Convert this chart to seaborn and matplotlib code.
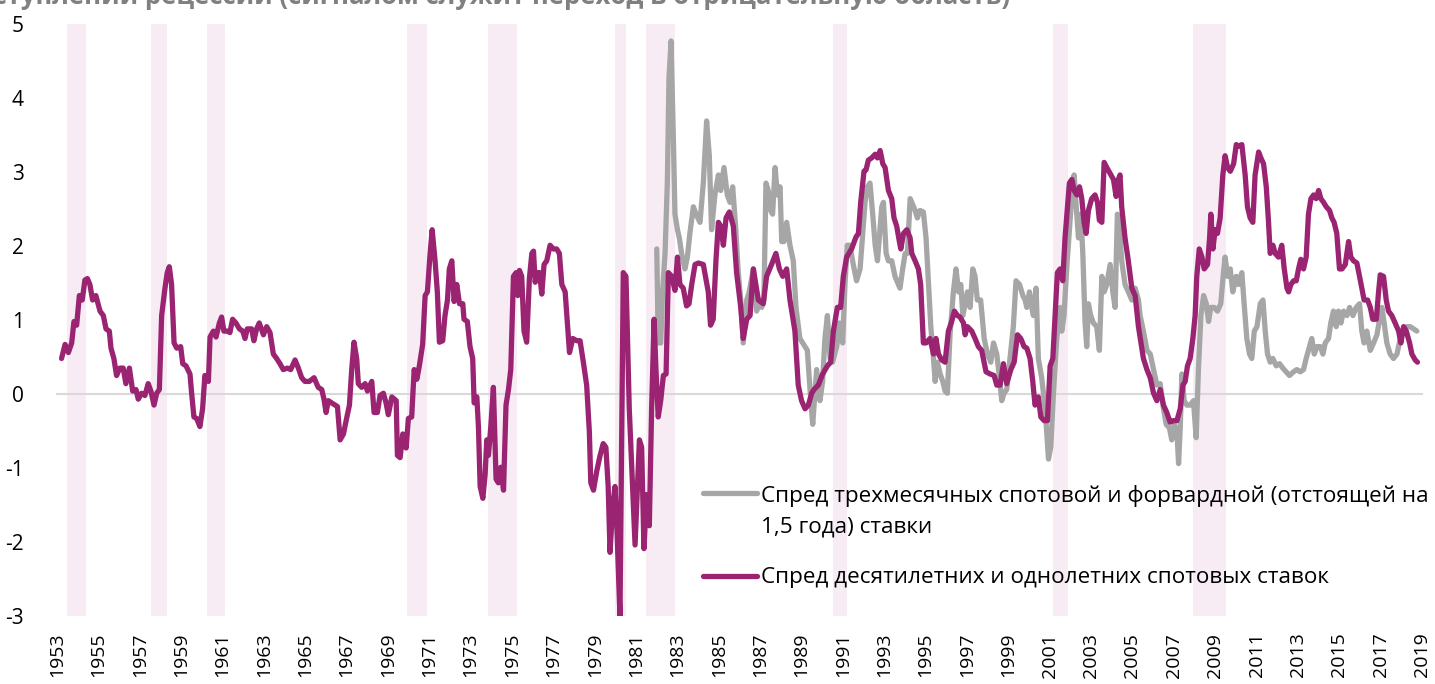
import matplotlib
matplotlib.use("Agg")
import matplotlib.pyplot as plt
import seaborn as sns
from matplotlib.lines import Line2D

sns.set_style("white")
plt.rcParams["font.family"] = ["Open Sans", "DejaVu Sans"]
plt.rcParams["axes.unicode_minus"] = False

# --- data ---
purple_years = [
    1953.22, 1953.39, 1953.55, 1953.71, 1953.82, 1953.95, 1954.08, 1954.22, 1954.35, 1954.47,
    1954.59, 1954.72, 1954.88, 1955.08, 1955.24, 1955.37, 1955.53, 1955.61, 1955.75, 1955.88,
    1956.04, 1956.20, 1956.33, 1956.50, 1956.66, 1956.82, 1956.93, 1957.09, 1957.25, 1957.41,
    1957.54, 1957.69, 1957.82, 1957.95, 1958.06, 1958.22, 1958.33, 1958.43, 1958.54, 1958.66,
    1958.79, 1958.98, 1959.08, 1959.24, 1959.43, 1959.51, 1959.62, 1959.75, 1959.91, 1960.04,
    1960.15, 1960.32, 1960.40, 1960.56, 1960.69, 1960.85, 1960.96, 1961.07, 1961.24, 1961.36,
    1961.49, 1961.65, 1961.82, 1961.98, 1962.09, 1962.20, 1962.41, 1962.52, 1962.65, 1962.78,
    1962.98, 1963.14, 1963.30, 1963.46, 1963.62, 1963.78, 1963.94, 1964.14, 1964.30, 1964.51,
    1964.67, 1964.83, 1964.99, 1965.20, 1965.43, 1965.63, 1965.80, 1965.91, 1966.01, 1966.12,
    1966.28, 1966.45, 1966.56, 1966.69, 1966.85, 1966.98, 1967.14, 1967.25, 1967.36, 1967.49,
    1967.57, 1967.73, 1967.90, 1968.01, 1968.22, 1968.33, 1968.49, 1968.62, 1968.78, 1968.91,
    1969.02, 1969.19, 1969.40, 1969.46, 1969.59, 1969.72, 1969.88, 1969.99, 1970.15, 1970.27,
    1970.40, 1970.52, 1970.68, 1970.80, 1970.91, 1971.04, 1971.14, 1971.28, 1971.39, 1971.49,
    1971.65, 1971.76, 1971.88, 1971.97, 1972.09, 1972.20, 1972.33, 1972.46, 1972.62, 1972.68,
    1972.84, 1972.97, 1973.10, 1973.17, 1973.30, 1973.38, 1973.46, 1973.59, 1973.70, 1973.78,
    1973.86, 1973.97, 1974.10, 1974.23, 1974.34, 1974.46, 1974.59, 1974.71, 1974.83, 1974.94,
    1975.07, 1975.20, 1975.28, 1975.36, 1975.47, 1975.58, 1975.71, 1975.84, 1975.96, 1976.04,
    1976.12, 1976.23, 1976.33, 1976.44, 1976.55, 1976.68, 1976.84, 1977.00, 1977.16, 1977.29,
    1977.41, 1977.57, 1977.68, 1977.78, 1977.94, 1978.13, 1978.29, 1978.45, 1978.61, 1978.74,
    1978.81, 1978.94, 1979.10, 1979.26, 1979.41, 1979.54, 1979.65, 1979.74, 1979.87, 1979.98,
    1980.06, 1980.22, 1980.38, 1980.51, 1980.67, 1980.95, 1981.16, 1981.27, 1981.38, 1981.51,
    1981.64, 1981.75, 1981.87, 1981.96, 1982.07, 1982.19, 1982.32, 1982.45, 1982.56, 1982.72,
    1982.88, 1983.00, 1983.12, 1983.28, 1983.44, 1983.56, 1983.69, 1983.85, 1984.01, 1984.25,
    1984.49, 1984.60, 1984.73, 1984.86, 1984.98, 1985.09, 1985.22, 1985.35, 1985.51, 1985.70,
    1985.86, 1986.06, 1986.18, 1986.35, 1986.51, 1986.67, 1986.91, 1987.15, 1987.31, 1987.55,
    1987.76, 1987.93, 1988.09, 1988.28, 1988.44, 1988.68, 1988.84, 1989.00, 1989.17, 1989.33,
    1989.49, 1989.60, 1989.81, 1990.02, 1990.25, 1990.41, 1990.54, 1990.73, 1990.89, 1991.02,
    1991.18, 1991.42, 1991.63, 1991.75, 1991.86, 1992.02, 1992.12, 1992.23, 1992.39, 1992.56,
    1992.67, 1992.80, 1992.93, 1993.04, 1993.20, 1993.36, 1993.47, 1993.60, 1993.73, 1993.80,
    1993.93, 1994.09, 1994.25, 1994.33, 1994.49, 1994.65, 1994.76, 1994.89, 1995.02, 1995.21,
    1995.38, 1995.50, 1995.62, 1995.78, 1995.94, 1996.10, 1996.26, 1996.39, 1996.54, 1996.66,
    1996.83, 1996.91, 1997.02, 1997.23, 1997.39, 1997.55, 1997.71, 1997.92, 1998.12, 1998.31,
    1998.44, 1998.60, 1998.76, 1998.92, 1999.12, 1999.28, 1999.44, 1999.60, 1999.76, 1999.89,
    2000.05, 2000.18, 2000.29, 2000.45, 2000.57, 2000.73, 2000.89, 2001.02, 2001.15, 2001.26,
    2001.37, 2001.50, 2001.63, 2001.74, 2001.86, 2001.95, 2002.07, 2002.18, 2002.31, 2002.44,
    2002.55, 2002.66, 2002.76, 2002.87, 2003.03, 2003.19, 2003.31, 2003.40, 2003.52, 2003.63,
    2003.76, 2003.92, 2004.08, 2004.21, 2004.32, 2004.40, 2004.48, 2004.64, 2004.80, 2004.97,
    2005.13, 2005.29, 2005.53, 2005.70, 2005.86, 2006.02, 2006.18, 2006.34, 2006.50, 2006.66,
    2006.82, 2006.99, 2007.15, 2007.31, 2007.44, 2007.55, 2007.66, 2007.79, 2007.92, 2008.03,
    2008.11, 2008.23, 2008.36, 2008.47, 2008.63, 2008.73, 2008.79, 2008.89, 2009.00, 2009.11,
    2009.24, 2009.37, 2009.48, 2009.60, 2009.73, 2009.89, 2010.02, 2010.13, 2010.29, 2010.45,
    2010.56, 2010.69, 2010.82, 2010.93, 2011.10, 2011.21, 2011.34, 2011.47, 2011.58, 2011.66,
    2011.79, 2011.90, 2012.06, 2012.22, 2012.34, 2012.47, 2012.55, 2012.66, 2012.79, 2012.92,
    2013.03, 2013.14, 2013.27, 2013.40, 2013.51, 2013.63, 2013.76, 2013.88, 2014.00, 2014.11,
    2014.24, 2014.37, 2014.53, 2014.64, 2014.75, 2014.88, 2015.01, 2015.13, 2015.29, 2015.45,
    2015.56, 2015.69, 2015.85, 2015.98, 2016.09, 2016.20, 2016.37, 2016.50, 2016.62, 2016.79,
    2016.90, 2016.98, 2017.14, 2017.27, 2017.38, 2017.54, 2017.70, 2017.87, 2017.98, 2018.11,
    2018.24, 2018.40, 2018.51, 2018.67, 2018.78,
]
purple_vals = [
    0.48, 0.67, 0.56, 0.69, 0.98, 0.93, 1.33, 1.27, 1.54, 1.56,
    1.48, 1.27, 1.33, 1.12, 1.06, 0.88, 0.85, 0.62, 0.48, 0.25,
    0.35, 0.35, 0.14, 0.35, 0.04, 0.06, -0.07, 0.01, -0.02, 0.14,
    0.04, -0.15, 0.01, 0.06, 1.06, 1.43, 1.64, 1.72, 1.48, 0.69,
    0.62, 0.64, 0.41, 0.38, 0.27, 0.01, -0.31, -0.33, -0.44, -0.20,
    0.25, 0.17, 0.77, 0.85, 0.77, 0.96, 1.04, 0.85, 0.85, 0.83,
    1.01, 0.96, 0.88, 0.85, 0.75, 0.88, 0.88, 0.72, 0.88, 0.96,
    0.80, 0.91, 0.83, 0.54, 0.48, 0.41, 0.33, 0.35, 0.33, 0.46,
    0.35, 0.22, 0.17, 0.17, 0.22, 0.09, 0.06, -0.07, -0.25, -0.09,
    -0.12, -0.15, -0.17, -0.62, -0.54, -0.36, -0.15, 0.33, 0.70, 0.48,
    0.14, 0.09, 0.14, 0.04, 0.17, -0.25, -0.25, -0.02, 0.01, -0.12,
    -0.28, -0.04, -0.09, -0.83, -0.86, -0.54, -0.73, -0.33, -0.31, 0.33,
    0.20, 0.38, 0.67, 1.33, 1.38, 1.90, 2.22, 1.80, 1.38, 0.70,
    0.72, 1.06, 1.27, 1.69, 1.80, 1.25, 1.48, 1.22, 1.22, 1.01,
    0.98, 0.64, 0.48, -0.12, -0.04, -0.46, -1.25, -1.41, -1.09, -0.62,
    -0.83, -0.46, 0.09, -1.15, -1.20, -0.99, -1.30, -0.15, 0.06, 0.33,
    1.59, 1.64, 1.33, 1.67, 1.59, 0.85, 0.70, 1.56, 1.90, 1.93,
    1.51, 1.64, 1.64, 1.35, 1.75, 1.80, 2.01, 1.96, 1.96, 1.90,
    1.48, 1.38, 0.96, 0.56, 0.75, 0.72, 0.72, 0.43, 0.12, -0.51,
    -1.20, -1.30, -1.04, -0.83, -0.67, -0.72, -1.25, -2.14, -1.51, -1.25,
    -1.72, -3.00, 1.64, 1.59, -0.20, -2.04, -0.62, -0.72, -2.09, -1.36,
    -1.78, -0.20, 1.01, 0.33, -0.31, -0.09, 0.25, 0.27, 1.64, 1.59,
    1.40, 1.85, 1.48, 1.43, 1.19, 1.22, 1.48, 1.75, 1.77, 1.75,
    1.38, 0.93, 1.01, 1.80, 2.32, 2.27, 2.01, 2.38, 2.46, 2.27,
    1.64, 1.17, 0.75, 1.01, 1.06, 1.69, 1.27, 1.22, 1.59, 1.75,
    1.90, 1.69, 1.59, 1.69, 1.27, 0.85, 0.12, -0.09, -0.20, -0.15,
    0.01, 0.06, 0.12, 0.27, 0.38, 0.43, 0.85, 1.17, 1.17, 1.59,
    1.85, 1.96, 2.12, 2.17, 2.59, 3.01, 3.03, 3.16, 3.19, 3.24,
    3.19, 3.29, 3.11, 3.06, 2.75, 2.64, 2.38, 2.27, 2.06, 1.96,
    2.17, 2.22, 2.11, 1.90, 1.80, 1.69, 1.48, 0.69, 0.69, 0.75,
    0.54, 0.75, 0.54, 0.46, 0.43, 0.85, 0.98, 1.12, 1.06, 1.04,
    0.96, 0.80, 0.91, 0.85, 0.75, 0.64, 0.59, 0.30, 0.27, 0.25,
    0.12, 0.12, 0.41, 0.14, 0.33, 0.43, 0.80, 0.75, 0.64, 0.62,
    0.48, 0.17, -0.15, -0.04, -0.31, -0.36, -0.36, 0.38, 0.48, 1.06,
    1.64, 1.69, 1.53, 2.11, 2.53, 2.85, 2.90, 2.75, 2.69, 2.80,
    2.64, 2.32, 2.17, 2.48, 2.64, 2.69, 2.59, 2.35, 2.32, 3.13,
    3.06, 2.98, 2.90, 2.67, 2.90, 2.96, 2.53, 2.11, 1.80, 1.43,
    1.33, 0.91, 0.48, 0.33, 0.22, 0.01, -0.09, 0.06, -0.15, -0.25,
    -0.38, -0.36, -0.36, -0.20, 0.12, 0.17, 0.38, 0.48, 0.75, 1.06,
    1.59, 1.96, 1.85, 1.69, 1.75, 2.11, 2.43, 1.96, 2.22, 2.17,
    2.38, 2.96, 3.22, 3.06, 3.01, 3.11, 3.37, 3.35, 3.37, 2.96,
    2.53, 2.38, 2.32, 2.96, 3.27, 3.19, 3.11, 2.80, 2.32, 1.90,
    2.01, 1.90, 1.85, 2.01, 1.69, 1.43, 1.38, 1.48, 1.53, 1.53,
    1.69, 1.82, 1.69, 1.85, 2.43, 2.64, 2.69, 2.64, 2.75, 2.64,
    2.59, 2.53, 2.48, 2.38, 2.32, 2.17, 1.69, 1.69, 1.75, 2.06,
    1.85, 1.80, 1.77, 1.59, 1.43, 1.27, 1.27, 1.17, 1.01, 1.01,
    1.38, 1.61, 1.59, 1.27, 1.12, 1.06, 0.96, 0.85, 0.69, 0.91,
    0.85, 0.69, 0.54, 0.46, 0.43,
]

grey_years = [
    1982.00, 1982.07, 1982.19, 1982.28, 1982.40, 1982.51, 1982.59, 1982.69, 1982.80, 1982.88,
    1983.00, 1983.09, 1983.20, 1983.36, 1983.48, 1983.60, 1983.77, 1983.90, 1984.09, 1984.25,
    1984.41, 1984.54, 1984.65, 1984.81, 1984.98, 1985.09, 1985.25, 1985.41, 1985.54, 1985.67,
    1985.81, 1985.94, 1986.06, 1986.18, 1986.35, 1986.47, 1986.67, 1986.83, 1986.96, 1987.07,
    1987.18, 1987.28, 1987.39, 1987.50, 1987.60, 1987.72, 1987.83, 1987.96, 1988.04, 1988.15,
    1988.28, 1988.44, 1988.60, 1988.73, 1988.92, 1989.17, 1989.28, 1989.41, 1989.54, 1989.65,
    1989.73, 1989.89, 1990.02, 1990.13, 1990.25, 1990.38, 1990.50, 1990.70, 1990.83, 1990.99,
    1991.10, 1991.21, 1991.34, 1991.50, 1991.66, 1991.83, 1992.07, 1992.18, 1992.31, 1992.44,
    1992.56, 1992.67, 1992.76, 1992.88, 1992.96, 1993.09, 1993.20, 1993.36, 1993.52, 1993.68,
    1993.76, 1993.89, 1994.01, 1994.12, 1994.25, 1994.33, 1994.49, 1994.60, 1994.73, 1994.89,
    1995.02, 1995.13, 1995.25, 1995.38, 1995.46, 1995.57, 1995.70, 1995.83, 1995.94, 1996.05,
    1996.18, 1996.34, 1996.47, 1996.59, 1996.70, 1996.80, 1996.91, 1997.02, 1997.15, 1997.28,
    1997.39, 1997.50, 1997.66, 1997.83, 1997.99, 1998.15, 1998.28, 1998.44, 1998.57, 1998.68,
    1998.79, 1998.92, 1999.08, 1999.24, 1999.37, 1999.54, 1999.70, 1999.81, 1999.89, 2000.02,
    2000.13, 2000.21, 2000.34, 2000.45, 2000.61, 2000.78, 2000.94, 2001.05, 2001.18, 2001.34,
    2001.50, 2001.58, 2001.69, 2001.82, 2001.95, 2002.07, 2002.18, 2002.28, 2002.39, 2002.50,
    2002.60, 2002.71, 2002.79, 2002.87, 2002.98, 2003.11, 2003.27, 2003.40, 2003.52, 2003.63,
    2003.76, 2003.92, 2004.05, 2004.16, 2004.27, 2004.37, 2004.48, 2004.64, 2004.80, 2004.97,
    2005.13, 2005.29, 2005.37, 2005.53, 2005.70, 2005.86, 2006.02, 2006.18, 2006.34, 2006.50,
    2006.63, 2006.79, 2006.90, 2007.02, 2007.15, 2007.23, 2007.31, 2007.39, 2007.50, 2007.63,
    2007.79, 2007.95, 2008.08, 2008.19, 2008.31, 2008.44, 2008.57, 2008.68, 2008.79, 2008.95,
    2009.11, 2009.27, 2009.40, 2009.48, 2009.60, 2009.73, 2009.85, 2010.02, 2010.13, 2010.29,
    2010.40, 2010.53, 2010.66, 2010.77, 2010.89, 2011.02, 2011.18, 2011.31, 2011.42, 2011.53,
    2011.66, 2011.79, 2011.95, 2012.11, 2012.27, 2012.43, 2012.59, 2012.79, 2012.95, 2013.11,
    2013.27, 2013.40, 2013.56, 2013.67, 2013.79, 2013.92, 2014.08, 2014.21, 2014.32, 2014.48,
    2014.59, 2014.72, 2014.85, 2014.96, 2015.08, 2015.21, 2015.37, 2015.50, 2015.66, 2015.82,
    2015.98, 2016.09, 2016.20, 2016.33, 2016.50, 2016.66, 2016.82, 2016.95, 2017.06, 2017.17,
    2017.30, 2017.46, 2017.62, 2017.79, 2017.95, 2018.11, 2018.27, 2018.43, 2018.59, 2018.75,
]
grey_vals = [
    1.96, 0.69, 0.69, 1.38, 1.90, 2.85, 4.27, 4.77, 3.48, 2.43,
    2.22, 2.11, 1.90, 1.69, 1.85, 2.17, 2.53, 2.43, 2.32, 2.85,
    3.69, 3.22, 2.22, 2.69, 2.96, 2.75, 3.06, 2.69, 2.59, 2.80,
    2.27, 1.64, 1.27, 0.69, 1.27, 1.38, 1.69, 1.12, 1.27, 1.17,
    1.27, 2.85, 2.75, 2.48, 2.43, 3.06, 2.69, 2.80, 2.06, 2.06,
    2.32, 2.01, 1.80, 1.17, 0.75, 0.64, 0.59, 0.06, -0.41, 0.01,
    0.33, -0.09, 0.17, 0.75, 1.06, 0.48, 0.43, 0.64, 0.96, 0.69,
    1.48, 2.01, 2.01, 1.75, 1.53, 1.69, 2.59, 2.80, 2.85, 2.43,
    2.01, 1.80, 2.11, 2.53, 2.59, 1.90, 1.80, 1.80, 1.59, 1.48,
    1.43, 1.69, 1.90, 1.90, 2.64, 2.59, 2.48, 2.38, 2.48, 2.46,
    2.11, 1.53, 0.91, 0.48, 0.17, 0.43, 0.27, 0.17, 0.04, 0.01,
    0.80, 1.38, 1.69, 1.38, 1.48, 1.06, 1.22, 1.38, 1.17, 1.69,
    1.59, 1.27, 1.27, 0.75, 0.54, 0.43, 0.69, 0.54, 0.22, -0.09,
    0.01, 0.06, 0.48, 0.91, 1.53, 1.48, 1.33, 1.27, 1.17, 1.38,
    1.17, 1.06, 1.43, 0.48, 0.22, -0.20, -0.88, -0.72, 0.01, 0.75,
    1.17, 0.85, 1.06, 1.69, 2.22, 2.69, 2.96, 2.53, 2.11, 2.43,
    1.90, 0.96, 0.64, 1.22, 1.06, 0.96, 0.91, 0.59, 1.59, 1.38,
    1.48, 1.75, 1.38, 1.17, 2.43, 2.27, 1.80, 1.48, 1.38, 1.27,
    1.43, 1.27, 1.06, 0.85, 0.59, 0.54, 0.33, 0.12, 0.14, -0.20,
    -0.41, -0.46, -0.62, -0.41, -0.51, -0.94, -0.46, 0.27, -0.09, -0.15,
    -0.15, -0.09, -0.59, 0.33, 1.06, 1.33, 1.22, 0.98, 1.17, 1.17,
    1.12, 1.22, 1.64, 1.85, 1.59, 1.69, 1.38, 1.59, 1.48, 1.64,
    1.22, 0.75, 0.54, 0.48, 0.85, 0.91, 1.22, 1.27, 0.85, 0.54,
    0.43, 0.48, 0.38, 0.41, 0.35, 0.30, 0.25, 0.30, 0.33, 0.30,
    0.33, 0.48, 0.64, 0.75, 0.54, 0.64, 0.64, 0.54, 0.69, 0.75,
    0.96, 1.12, 0.91, 1.12, 0.96, 1.12, 1.06, 1.17, 1.06, 1.17,
    1.22, 0.85, 0.69, 0.85, 0.59, 0.69, 0.80, 1.01, 1.17, 0.96,
    0.69, 0.54, 0.48, 0.54, 0.75, 0.85, 0.91, 0.91, 0.88, 0.85,
]

recession_start = [1953.50, 1957.55, 1960.25, 1969.90, 1973.85, 1980.00, 1981.48, 1990.50, 2001.17, 2007.93]
recession_end = [1954.38, 1958.30, 1961.12, 1970.88, 1975.22, 1980.52, 1982.88, 1991.22, 2001.90, 2009.52]
tick_years = list(range(1953, 2020, 2))

grey_label = "Спред трехмесячных спотовой и форвардной (отстоящей на\n1,5 года) ставки"
purple_label = "Спред десятилетних и однолетних спотовых ставок"
title_text = "наступлении рецессии (сигналом служит переход в отрицательную область)"

PURPLE = "#9B2472"
GREY = "#A6A6A6"
BAND = "#F7ECF4"
LW = 3.8

fig = plt.figure(figsize=(14.35, 6.84), dpi=100)
ax = fig.add_axes([57 / 1435, 1 - 616 / 684, (1422 - 57) / 1435, (616 - 24) / 684])

for s, e in zip(recession_start, recession_end):
    ax.axvspan(s, e, color=BAND, lw=0, zorder=0.2)

sns.lineplot(x=grey_years, y=grey_vals, ax=ax, color=GREY, lw=LW,
             estimator=None, sort=False, zorder=2)
sns.lineplot(x=purple_years, y=purple_vals, ax=ax, color=PURPLE, lw=LW,
             estimator=None, sort=False, zorder=3)

ax.set_xlim(1953, 2019)
ax.set_ylim(-3, 5)
ax.set_yticks(range(-3, 6))
ax.set_yticklabels([str(v) for v in range(-3, 6)], fontsize=15, color="black")
ax.tick_params(axis="y", length=0, pad=24)

for side in ["top", "right", "left"]:
    ax.spines[side].set_visible(False)
ax.spines["bottom"].set_position(("data", 0))
ax.spines["bottom"].set_color("#D9D9D9")
ax.spines["bottom"].set_linewidth(1.5)
ax.spines["bottom"].set_zorder(0.5)
ax.set_axisbelow(True)
ax.set_xticks(tick_years)
ax.tick_params(axis="x", direction="out", length=7, width=1.5, color="#D9D9D9",
               labelbottom=False)

sec = ax.secondary_xaxis("bottom")
sec.set_xticks(tick_years)
sec.set_xticklabels([str(y) for y in tick_years], rotation=90, fontsize=14, color="black")
sec.tick_params(length=0, pad=12)
sec.spines["bottom"].set_visible(False)
ax.set_xlabel("")
ax.set_ylabel("")
ax.grid(False)

# legend drawn by hand to match the original layout
fig.add_artist(Line2D([703 / 1435, 757 / 1435], [1 - 493 / 684] * 2, color=GREY, lw=LW,
                      solid_capstyle="round"))
fig.add_artist(Line2D([703 / 1435, 757 / 1435], [1 - 576 / 684] * 2, color=PURPLE, lw=LW,
                      solid_capstyle="round"))
fig.text(761 / 1435, 1 - 485 / 684, grey_label, fontsize=16.2, va="top", ha="left",
         color="black", linespacing=1.6)
fig.text(761 / 1435, 1 - 578 / 684, purple_label, fontsize=16.2, va="center", ha="left",
         color="black")

fig.text(1010 / 1435, 1 - 4 / 684, title_text, fontsize=18.5, fontweight="bold",
         color="#808080", ha="right", va="baseline")

fig.savefig("out.png", dpi=100)
